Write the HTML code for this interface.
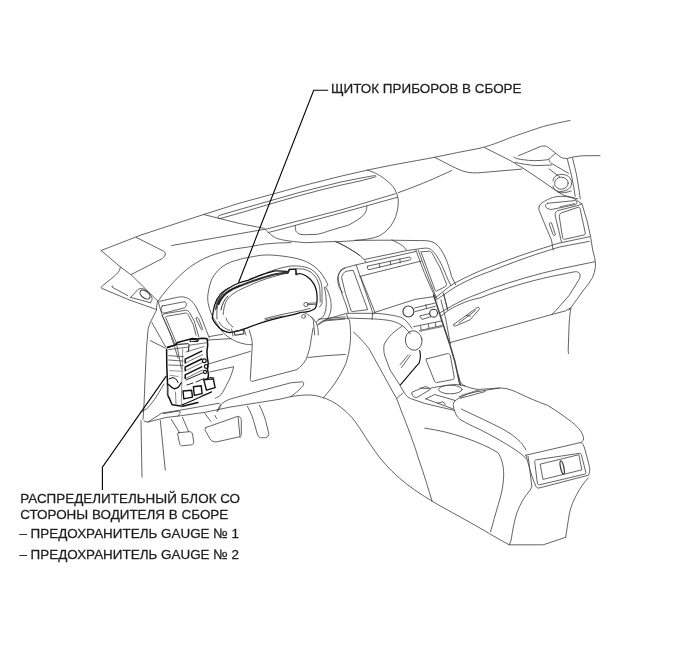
<!DOCTYPE html>
<html><head><meta charset="utf-8">
<style>
html,body{margin:0;padding:0;background:#fff;}
svg{display:block;will-change:transform;}
text{font-family:"Liberation Sans",sans-serif;font-size:13.45px;fill:#1a1a1a;stroke:#2a2a2a;stroke-width:0.28px;}
</style></head><body>
<svg width="691" height="660" viewBox="0 0 691 660">
<g fill="none" stroke="#3c3c3c" stroke-width="0.8" stroke-linejoin="round" stroke-linecap="round">
<!-- A: windshield base & dash top -->
<path d="M101.1,250.5 L141,235 L203.6,214.5 L240,203 L280,192.1 L300,186.5 L316,182.4 L340,176.4 L360,171.8 C390,165 410,162 434.5,157.3 C450,154 465,151 480,148.2 C495,144.5 506,139 516.4,135.5 C527,132 535,129 543.6,126.4 C553,124 562,122 570,120.5"/>
<path d="M203.6,214.5 L240,223.6 L263.6,228.2 C266,229.5 268,233 274.5,237.3 C280,240 287,241 305.5,242.7 L331,241.6 L338,241.7 L360,240.3 L390,240.2 L421.2,240.6 C428,240.5 432,241 436,244 C443,250 448,262 451.6,276.6 L455.6,284.7"/>
<path d="M434.5,157.3 C448,164 458,170 465.5,171.8 C470,173 475,173 480,172.7 L521.8,169.1"/>
<path d="M484.5,147.6 L510,160.4 L523,168.2 L536,176.7 L549.1,185.8 L559.5,193 C562,194.5 564,195.5 567.3,196.2 L577.7,198.8"/>
<path d="M220,218.6 L240,213 L270,204 L300,195.5 L320,190.2 L340,185.3 L360,181 L374,177.3 C377,176.5 376.5,175.3 373.6,175.7 L360,178.2 L340,182.2 L320,187.2 L300,192.3 L270,200.8 L240,209.4 L220,215.2 C217,216.2 217.5,218.9 220,218.6Z"/>
<path d="M398.2,192.7 C420,185 440,176 451.8,170.5"/>
<path d="M367.3,170 C376,173 380,175.5 383.6,178.2 C390,183 394,187 395.5,191 C398,195 398.5,200 398.2,205 C397.5,213 395,220 391,225.5 C387,231 383,234 378.2,236.4 C372,238.6 364,239.9 355,240.3"/>
<path d="M171.8,245.5 L240,233.6 L268,228.7 L280,225.6 L340,210.2 L360,204.3 L395.5,193.7"/>
<path d="M268.2,232.5 L280,229.5 L340,213.2 L360,207.7 L397.3,197.3"/>
<path d="M295.2,225.6 C295.3,228 295.5,230 296,231.3 C297,232.8 298.5,233.8 300,234.3 C302,234.7 304,234.8 306,234.7 L317.3,234.3 C321,233.6 324.5,232.5 327.7,231.3 C332,229.8 336,228.8 340,227.5 C344,226.5 346.5,225.8 348.7,225 C353,222.8 357,220.3 360,218 C362.3,216.5 364,214.8 365.2,212.8 C366.3,210.8 366.8,208.5 366.9,206.3"/>
<path d="M336.4,241.8 C345,246 352,250 360,255.5"/>
<!-- right top: defroster & tweeter -->
<path d="M518.5,155.8 L540,146.7 C542,146 544,145.8 545.2,146.1 C547,146.5 548,147 549.1,148 L555.6,153.2 C558,155 560,157 562.1,157.8 C564,158.5 566,158.5 567.3,158.4 L572.5,157.1 L581.6,155.8 L600,155.6"/>
<path d="M513.9,157.1 C516,158.5 519,159.3 523,159.7 C530,160.7 538,161.2 547.8,159.7 C549,159 549.5,158.5 550.4,157.8 L555.6,153.2"/>
<path d="M549.1,159.7 C549.5,161 550,162 550.4,162.4 C551.5,163.5 552.5,164.3 554.3,165 L568.6,173.4"/>
<path d="M515.2,162.4 C522,164 529,165 536,165.6 L551.7,165"/>
<path d="M549.1,168.9 L559.5,176.7"/>
<ellipse cx="561.4" cy="183.2" rx="6.8" ry="6" />
<path d="M553,181 C553,176 558,174 563,174.5 C569,175 572,179 571.5,184 C571,188.5 567,191 561,191.5 C557,191.8 553.5,189.5 553,186"/>
<path d="M567.3,159.1 L571.2,174.1 L573.8,187.1 L575.1,196.2"/>
<path d="M572.5,157.8 L576.4,174.1 L579,189.7 L580.3,198.8"/>
<path d="M558.2,192.3 C562,193.5 567,192.5 571.2,191"/>
<!-- B: left corner -->
<path d="M136.2,237.4 L162.9,250.8 C166,252.5 166.5,255 162.3,258.6 L131.4,274.4"/>
<path d="M101.1,250.5 L120.5,267.1 L131.4,275 L157.9,301.2"/>
<path d="M120.5,267.1 C119.5,270 119,271.5 118,272.6 C113,278 107,282 102.3,285.9 C101,287 101,288 101.7,288.3 L129,299.8 L156.4,309.5"/>
<path d="M112.5,285.8 L111.8,287 L127.7,295.6"/>
<path d="M130.6,297.4 L150.8,302.8"/>
<path d="M130.6,297.4 L137.5,290 C139,288.5 141,288.3 143,288.8 C147,290 151,294 152,298 C152.5,300.5 151,302 150.3,302.3"/>
<ellipse cx="145" cy="294.6" rx="5.8" ry="3.4" transform="rotate(38 145 294.6)" stroke-width="1.1"/>
<!-- big curve from corner to binnacle -->
<path d="M157.9,301.2 C163,294 168,288 174.5,281 C181,274 189,267 196.4,262.7 C204,258 212,255 220,252.7 C227,250.5 233,249 240,248.2 C250,247 258,245 265,244 C275,243 283,242.7 291,242.7"/>
<!-- A-pillar / door edge line -->
<path d="M157.9,301.2 L157.1,302.7 L156.4,310.3 L150.3,322.4 C149,326 148.3,328 148,330 L146.5,348.2 L145,380 L144.1,402.5 L143,419.4"/>
<path d="M141,420.5 L141.5,450 L142,477.2"/>
<!-- left vent -->
<path d="M158.5,302.7 C158.7,301.9 159,301.5 159.6,301.3 L178.2,297.1 C181,296.6 183.5,296.8 185.7,297.5 C188,298.3 190,299.5 191.4,300.8 C193.3,302.7 194.8,304.7 196.1,306.9 L201.7,318.2 L206.4,330.5 L209.3,338"/>
<path d="M158.5,302.7 L162.2,315.4 L170,333 L174.5,346.7 L178,358"/>
<path d="M162.2,306 L183.9,301.8 C185.8,301.5 186.9,303.2 186.3,304.9 C185.9,306.3 185.4,307.4 184.6,307.8 L165,312.9 C162.8,313.3 161,311.6 161.1,309.5 C161.2,307.6 161.5,306.3 162.2,306 Z"/>
<path d="M175.4,345 L162.2,315.4 C163,314.3 164.5,313.8 166,313.5 L185.7,310.2 C187.3,310.3 188.6,311.2 189.5,312.6 L194.2,321 L198.9,337"/>
<path d="M181.5,369 L176.3,342.7 L165.5,317.3 C166.5,316.3 167.5,316 168.8,315.9 L185.7,313 C187,313.2 188,314.2 188.6,315.4 L193.3,324.8 L196.1,335.2"/>
<path d="M196.3,318 C197,317.3 198,317.6 198.4,318.4 L202.6,328.6 C202.9,329.6 201.8,330.2 201.2,329.4 L196.2,319.2 C196,318.7 196.1,318.3 196.3,318 Z"/>
<path d="M150.3,340.6 L165.5,348.2"/>
<path d="M151.8,322.4 L165.5,346.7"/>
<path d="M209.5,336.5 L222.6,334.3 M209.5,339.9 L231.3,338.6"/>
<!-- C: fuse box -->
<g stroke="#111">
<path d="M167.3,347.3 L174.6,345.1 L178.2,342.2 L184,340.8 L191.9,338.6 L197.7,339 L202.1,338.3 L206.4,338.6 L207.9,340.1" stroke-width="1.5"/>
<path d="M190.5,339.3 L198.5,340.1 L197,341.5 L190,341.2Z" stroke-width="1.1"/>
<path d="M167.3,348 L177.5,344.4 L188.3,343.7 C189.3,344.5 189.3,345.5 189,345.9 L188.3,351.6" stroke-width="1"/>
<path d="M166.6,349.5 L166.8,366 L167.2,375.2 L167.6,386.5 L167.6,394.8 L169.8,399.4 L172.1,404.7 L182.7,406.2 L197.9,402.4" stroke-width="1.5"/>
<path d="M207.3,339.2 L207.7,345.3 L206.9,351.4 L207.3,357.5 L208.2,363 L207.5,369 L208.5,375 L207.9,378" stroke-width="1.5"/>
<path d="M185.2,363.0 L185.2,359.2 L201.7,351.2" stroke-width="1.5"/>
<path d="M186.2,362.6 L202.5,354.6" stroke-width="0.8" stroke="#555"/>
<path d="M185.2,370.8 L185.2,367.0 L201.7,359.0" stroke-width="1.5"/>
<path d="M186.2,370.4 L202.5,362.4" stroke-width="0.8" stroke="#555"/>
<path d="M185.2,378.6 L185.2,374.8 L201.7,366.8" stroke-width="1.5"/>
<path d="M186.2,378.2 L202.5,370.2" stroke-width="0.8" stroke="#555"/>
<path d="M188.6,345.3 L206.9,342.7 M186,352 L204,346.5" stroke-width="0.8" stroke="#555"/>
<circle cx="204.3" cy="360.8" r="1.9" stroke-width="1.2"/>
<circle cx="206.2" cy="366.5" r="1.8" stroke-width="1.2"/>
<circle cx="205" cy="372" r="1.6" stroke-width="1.1"/>
<path d="M182.7,349 L181.2,407" stroke="#888" stroke-width="0.9"/>
<path d="M168.7,349.6 L188.6,347 M168.7,355.7 L183.4,356.6 M168.7,360 L183,361 M168.7,365 L183,365.5" stroke-width="0.8" stroke="#444"/>
<path d="M168.5,384.5 C170,386 172,388 174.4,388.8 C176,388.5 177.5,387.8 178.2,387.3 C179.5,385.5 180.5,384 181.2,382.7" stroke-width="1.3"/>
<path d="M169,379 L173,377.5 L176.5,379.5 L178,382.5" stroke-width="1"/>
<path d="M169.8,370.6 L182.5,371.3 M169.8,375.2 L178,376.5" stroke="#777" stroke-width="0.8"/>
<path d="M203.8,379.8 L213.3,378.9 L215.1,387.6 L206.4,390.2Z" stroke-width="1.4"/>
<path d="M203.8,379.8 L209.5,377.5 L214,378" stroke-width="1"/>
<path d="M193.4,386.7 L201.2,385.8 L202.1,393.6 L194.3,395.4Z" stroke-width="1.4"/>
<path d="M183,391 L191.6,390.2 L192.5,397.1 L183.8,398.9Z" stroke-width="1.4"/>
<path d="M182.1,404.9 C192,401 202,396 211.6,391.9" stroke-width="1.2"/>
<path d="M186,380 L203.5,372.5 M187,385 L193,383 M196,382 L204,378.5" stroke-width="0.9"/>
<path d="M167.6,386 L167.9,396 M175.5,392 L176,404" stroke-width="0.8" stroke="#666"/>
</g>
<path d="M164,384 C160.5,390 157.5,395 154.5,399.5 C151.5,403.5 149,406.5 146.5,409 L140.5,412"/>
<!-- D: cluster & binnacle -->
<path d="M252.1,344.7 C249,344.6 248,344.5 246,344.3 C242.5,343.5 239.5,342.8 236.5,341.7 C233.5,340.3 231,339 228.6,337.3 C226.5,335.8 224.5,334 222.6,332.1 C220.5,329.5 219,327 217.4,324.3 C215.8,322 214.3,319.8 213,317.4 C211.5,314.5 210.3,311.5 209.5,308.7 C208.5,305 207.8,302 207.8,300 C207.6,297.5 207.7,295.5 208,293.9 C209,287 210.5,282 212.3,278.2 C215.5,272.5 219,269 223.2,266.1 C228,262.8 233,261 237.7,260 C242,258.5 246,257.8 250.6,257.1 C256,256 260,255.2 265,255 C271,254.8 277,255.3 283.2,256.2 C290,257 296,258.2 301.4,259.8 C306,261.2 310,263.5 313.5,265.9 C317,268.5 319.5,271 322,274.4 C324.5,278 326.5,281.5 328,285.3 L325.6,287.1 C327.5,290 328.5,292.5 329.2,295 C330.3,298 331,301 331.1,303.5 C331.3,307 331,309.5 330.5,312 C329.8,314.5 329,316.5 328,318 C327,319.5 325.8,320.3 324.4,321.1 L318.3,324.7"/>
<path d="M250,279 C255,277 260,275.2 264.5,273.6 C269,271.5 274,270 278.9,268.5 C282.5,267.5 286,266.8 289.1,266.3 C291,266 293,265.9 295.3,265.9 C299.5,266 303.5,266.6 307.4,267.7 C311,269 313.5,270.8 315.9,273.2 C318,275.8 319.6,278.5 320.8,281.7 C321.8,285 322,288 322,291.4 L322,303.5 L319.5,307.1"/>
<circle cx="303.6" cy="316.4" r="1.9"/>
<!-- lens outer -->
<path d="M212.3,318.1 C213,313 213.5,309 214.7,304.8 C216,300.5 218,297 220.7,293.9 C223.5,291.5 226,289.5 229.2,287.9 C232,286 235,284.5 238.9,283 C241.5,282 244.5,281.3 247.4,280.6 C251.5,279 255.5,277.2 259.5,275.7 C264.5,273.8 269.5,272.2 275,270.9 C279,270.5 282,270.9 286.8,271.5 L289.2,271 L289.2,269.3 L295.9,269.3 L295.9,274.5 L299.5,273.5 C302,274 304.5,274.8 306.2,275.9 C308.2,277.2 309.8,278.6 311.1,280.2 C312.6,282 313.8,283.8 314.7,285.6 C315.6,287.5 316.1,289.3 316.5,291.1 C316.9,293.5 317.1,296 317.1,298.4 C317.1,301 316.8,303.3 316.4,305.5 C315.9,307 315.3,308.2 314.5,309.1 C312.8,310.2 311,310.9 309.1,311.4 C306,312 303,312.4 300,312.7 C295.5,314.5 289.5,315.7 283.2,316.8 C277,318.2 271,319.8 265,321.7 C259,323.5 253,325.6 247.4,327.8 C241.5,330 235.5,331.8 229.2,332.7 C224,332 219.5,329 215.9,324.2 C214,322 213,320 212.3,318.1Z" stroke="#0e0e0e" stroke-width="1.25"/>
<path d="M223.2,314.5 C223.5,310 224.3,306 225.6,302.4 C227.5,298.8 230,296 232.9,293.9 C236.5,291.5 240,289.5 243.8,287.9 C249,285.6 254,283.3 259.5,281.2 C264.5,279.4 269,277.8 273.9,276.5 C279,275 284,273.8 288.4,272.9"/>
<path d="M217,319 C216.5,313 217,307 218.5,301 C221,294 226,289.5 232,286.5 M215.5,310 C216,303 218,297 222,292"/>
<path d="M219,322 C221,326 225,329 230,330.5 M226,318 C227,322 230,325 233,327"/>
<path d="M265,318.5 L283.2,314.2 L301.4,310.6 L310,308.5 M265,320 L283,316"/>
<path d="M234.1,331.5 L243.8,330 L243.8,333.9 L235,335.3Z" stroke-width="1.1"/>
<path d="M231.6,329 L233,336 M244,329 L246,335"/>
<circle cx="305.9" cy="304.5" r="2.1"/>
<path d="M308,304.7 L316.6,304.2 M307.8,303.3 L316.6,302.9"/>
<path d="M300,312.5 C302,311.5 306,313 307.4,314.4 C310,316 312,317.5 313.5,319 C315.5,321.5 317,324 317.1,325.3 C318,328 318.3,331 318.3,335"/>
<path d="M311,316.8 C313,318.5 313.5,320 313.5,322 L314.7,335"/>
<path d="M318.3,319.2 L345,316.8 M324,321 L345,319"/>
<path d="M345,268.3 C342.5,269.5 341,270.5 340.2,272 C338.5,274.5 337.7,276.5 337.7,279.2 C337.7,282 338.2,284.5 338.9,286.5 C340,289 341.2,291 342.6,292.6"/>
<path d="M241,285.5 C250,282 262,277.6 275,274.3 L288,272.3" stroke="#333" stroke-width="2" stroke-dasharray="0.9 0.7"/>
<path d="M218.5,304 C220.5,299 223.5,295.5 227,292.5 C231,289.6 235.5,287.5 240,285.8" stroke="#222" stroke-width="2.2" stroke-dasharray="1.6 0.9"/>
<path d="M216,309 C217,302 219.5,297.5 223,293.5 M221,310 C222,304 224.5,299.5 228,296" stroke="#222" stroke-width="0.9"/>
<path d="M287.6,273.6 L289.1,269.2 L295.6,269.2 L297,275" stroke="#222" stroke-width="1"/>
<path d="M324.5,287.3 C325.5,292 326.2,297 326.4,302.7 C326.3,307 325.6,311 324.5,314.5 C323.2,316.5 321.8,318 320,319.1 L316.4,321.8"/>
<path d="M295.3,268.7 L303.2,269 C306,269.8 308.8,270.8 311.1,272.3 C313.2,274 315,276 316.5,278.4 C317.9,281 318.9,283.5 319.5,286.2 C320,290 320.2,296 320.2,302"/>
<!-- E: steering column, knee panel, pedals -->
<path d="M249.2,330.1 C251,336 252.3,340 252.3,344.3 L250.3,378.8 C250.5,381.5 252,382 254.3,380.8 L296.9,369.6 C300.5,367 303.5,363.5 306,359.5 C308.5,353 310.3,347 311,340.3 L313,328.1"/>
<path d="M308,357.5 C320,356 333,355 345.5,354.4"/>
<path d="M349.5,320 C350.5,327 350.8,334 350.5,340.3 C349.8,349 348,357 345.5,364.6 C342.5,371 339,377 335.3,382.8 C331.5,388 327.5,393.5 323.2,398"/>
<path d="M353.6,332.2 C357,335 360.5,338.5 363.7,342.3 C366,345 368.5,347.8 370,350.4 L375,359.5 L389,385 L396.6,398.6 C398.5,403 400,407.5 401.7,412.1 C404.5,419 407.5,426.5 410.4,434.7 C413.5,443 416.5,451.5 419,460 C424,474 428,488 432.2,501.6"/>
<path d="M396.6,398.6 L403,392.9"/>
<path d="M208.5,364 L250.3,351.4"/>
<path d="M209.8,372 L233.7,366.7 C232.5,372 230,379 226.8,384.5 C224.8,388.5 223,392 221,394.6 C219,396.5 217,397.5 215.3,398.2"/>
<!-- knee bolster -->
<path d="M217,411.4 C219,405 225,400 233.2,398.2 L290.8,382.8 L301.9,381.8 C304.5,382 304,385.5 301.5,387.5 C298,391 294.5,394 290.8,396.6 L280,399.2 L230,407.1 L205.1,412.3 L181.7,415.6 L166,417.5 L147.8,422.1 L144,421"/>
<path d="M147.8,422.1 L162,413 L183,409.7 L218.1,403.4 C220.3,403.3 220.8,405.2 220.2,406.5 C219.6,408.5 218.8,410 217.5,411.4"/>
<path d="M163.4,413.6 L179,411 C180.5,411 180.5,413 179.5,414 L177.8,416.2"/>
<path d="M160.3,420.5 L165.3,470.2"/>
<!-- big floor/console-side curve -->
<path d="M290.8,396.6 C298,395.5 305,394.8 311,395 C318,395.5 325,398 331.3,401 C338,404.5 345,410 351.6,417.2 C356.5,423 361,430 365.7,437.5 C372,447 378,456 385.1,464 C394,474 404,482.5 415.2,490.3 C427,498.5 440,506 452.9,512.9 C463,518.5 473,524 483,529.8 C492,535 500,540 509.3,544.8 L543.2,544.8 L565.7,537.3"/>
<!-- pedals -->
<path d="M171.4,419.5 L179.5,432.7 M182.5,417.5 L188.6,431.7"/>
<path d="M178.5,432.7 L189.6,431.7 C191,431.5 192,432.5 192.5,434 L193.7,441.8 C194,443.5 193,444.5 191.5,444.8 L182.5,445.8 C181,446 180,445 179.7,443.8 L177.8,435 C177.5,433.5 177.8,432.8 178.5,432.7Z"/>
<path d="M204.8,413.4 L210.9,421.5 M215,415.5 L216.5,418.5"/>
<path d="M205.8,427.6 L237.2,416.5 C239.5,415.8 241,417.5 241.3,420.5 L241.3,434.7 C241,436 240,436.5 238.5,437 L217,441.8 C213.5,442.2 211.5,441 209.9,438.8 L205.3,430.5 C205,429 205,428 205.8,427.6Z"/>
<path d="M247.4,406.3 C250,411 252,415.5 253.5,420.5 L257.5,434.7 C258.3,436.8 260,437.8 261.6,437.7 L265.6,437.7 C268,437.5 269,435 268.6,432.7 L265.6,420.5 C263.5,414 261.5,409 259.5,405.3"/>
<path d="M238.1,417.2 L240.1,437.5"/>

<!-- F: center stack -->
<path d="M335,241.2 C339,243 343,245 347.1,247.3 C350.5,249.2 353.5,251.2 356.8,253.3 C359.5,255.3 362,257.3 364.1,259.4 L365.9,261.8"/>
<path d="M392,240 C396,241.8 399.8,243.8 402.9,246.1 C404.5,247.4 405.7,248.8 406.5,250.3"/>
<path d="M364.7,259.4 L407.3,250.5 L415.8,249.3 C419,248.8 422,248.3 425.5,248.1 C428,248.1 430,248.7 431.5,249.9 C433.5,251.5 435,253.3 436.4,255.4 C438.5,258.8 440.5,262.5 442.4,266.3 L448.5,280.8 L450.9,285.7"/>
<path d="M338,278.8 C338.3,275 339,272.5 339.8,271.5 C341,269.5 342.5,268.5 344.7,267.9 L356.2,264.8 L415.8,251.5"/>
<path d="M338,278.8 C339.2,284 340.6,289.5 342.2,294.3 C343.6,298.5 345,302.3 346.5,306 L348.2,312.5"/>
<path d="M341.7,277 C342.5,274 344,272 346,271.3 L348.3,270.9 L353.2,270.3 L367.7,309.7 L352.5,311.5 C351.5,311.5 351,311 350.9,310 L345.5,293.6 L341.7,278Z"/>
<path d="M356.2,265 L373.2,314 M360.5,276.4 L375,312.5"/>
<path d="M359.8,276.4 L421.5,261"/>
<path d="M367.7,266.1 L409.5,257 C411,256.8 411.5,259.5 409.5,260 L368.9,269.7 C367.5,270 366.8,266.5 367.7,266.1Z M379.2,263.6 L379.8,267.5 M390.2,261.2 L390.8,265 M399.8,259 L400.3,262.8"/>
<path d="M415.8,250 L424.2,272.4 L431.5,289.3 L436.4,299 M418.2,250 L425.5,270 L433.9,291.8 L436.4,297.8"/>
<path d="M421.2,251.8 L429.1,251.2 C430.8,251.3 432,252.6 432.7,254.2 L440,267.5 L446.7,284.5 C446.3,285.5 445.8,286.2 444.8,286.9 L436.4,291.2 C435.8,291.3 435.4,291 435.2,290.5 L421.2,252.5Z"/>
<path d="M374.5,312.5 L415,299.4 L433.9,296.6"/>
<path d="M327.5,318.9 L346.6,313.3 L373.7,313.3 C380,313.5 385,314 389.6,314.9 C394,315.6 397.5,316.2 400.7,317.3 C403.5,318.6 405.5,320 407.1,322.1 C409,324.3 410.8,326.5 411.9,328.4"/>
<path d="M317.2,325.2 C320,322 323,320.5 326,319.7 L329.1,319.7 L348.2,318.1 L373.7,318.9 C380,319.3 385,319.8 389.6,320.5 C393,321.2 396.5,322.3 399.1,323.7 C401.5,325 403.5,326.5 405.5,328.4 C407.5,330.5 409,332 410.3,334"/>
<path d="M372.5,313.5 L372.1,319.5 M346.6,314.1 L348.2,319.5"/>
<circle cx="408.4" cy="311.5" r="5.5" stroke-width="1.2"/>
<circle cx="433.6" cy="313.2" r="3.9" stroke-width="1.1"/>
<path d="M414.5,308 L434.5,303.2 M415.4,311.5 L435.3,306.3 M425.8,304.5 L426.6,308.5"/>
<path d="M420.1,315.8 L429.2,313.7 L431,316.7 L422.3,319.3 Z"/>
<path d="M413.6,326.7 L441.4,321 M419.7,330.6 L442.3,325.4 M420.6,326 L421.2,330.3 M428.4,324.3 L429,328.8 M435.3,322.7 L436,327.2"/>
<path d="M420,331 L442,326.5" stroke="#888" stroke-width="1.5" stroke-dasharray="0.8 0.8"/>
<!-- G: console front -->
<ellipse cx="413.7" cy="340.5" rx="8.3" ry="9.8" transform="rotate(-10 413.7 340.5)"/>
<path d="M408.3,355 L400,364.8 M410.6,355 L401.5,367.5"/>
<path d="M419.8,350.6 C420.6,354 421,358 419,363.3 C418.5,364 418,364.4 417.4,364.8 L400.4,384.9" stroke-width="1.15" stroke="#111"/>
<path d="M402.3,326 C397,329.5 392,333.5 389.6,336.4 C387,339.5 385,342.5 384,345 C383.6,348.5 383.8,352 384.5,355 L390.2,370.2 L400,385.3 L403.8,392.1 C405,394 406.3,395.5 407.6,396.7 C408.5,397.5 409.5,398.1 410.6,398.6 L425,403.5 L454.7,410.5"/>
<!-- hatched seam -->
<path d="M433.6,295 L443.1,324.3 L446.6,335 L450,345 L455,362 L459.4,382.4 L460.5,385" stroke="#444" stroke-width="1.6" stroke-dasharray="1 0.8"/>
<path d="M441,300 L446,320 L450.2,343.6"/>
<!-- tray -->
<path d="M426.9,358.8 L447.1,353.7 C448.8,353.4 449.8,354.3 450.3,355.5 L454.2,377 C454.4,378.5 453.8,379.3 452.5,379.6 L436.5,382.6 C435.5,382.7 434.8,382 434.5,381 L426.2,360.5 C426,359.6 426.3,359 426.9,358.8Z"/>
<!-- cupholder/shift area -->
<path d="M412.1,392.1 L424.3,386.9 C426.5,386.2 429.5,387.5 430.3,389.5 L417.3,397.3 C415,398 412.5,397 412.1,394.5 Z"/>
<path d="M420,388 L428.7,388.7 C432,387.8 435.5,387 438.8,386.6 C444.5,385.6 450.5,384.8 456.2,384.4 C461,384.8 466,386.2 470.7,388 L477.9,389.5 L499.6,388"/>
<ellipse cx="450.4" cy="389.5" rx="11.8" ry="4.3"/>
<path d="M459.1,396.7 L477.9,390.2 M460.5,398.2 L485.1,391.6"/>
<path d="M462,395 L480,390" stroke="#999" stroke-width="1.2"/>
<path d="M425.8,398.9 L434.5,394.5 L454.7,400.3 M425.8,398.9 L453.3,409"/>
<path d="M437.4,403.2 L443.2,401.8 L445.3,404.7"/>
<path d="M458.4,375 C459,378 459.5,380 460.5,382.2 C461.8,384 463.2,385 464.9,385.9"/>
<!-- H: right dash: vent, glove box, door -->
<path d="M539.3,206.3 C540,204.5 541,203.5 542,202.8 C545.5,200.5 549,198.8 552.4,197.6 C555,196.8 558,196.3 561,196.3 C565,196.3 568.5,196.8 571.5,197.6 C575,198.8 578,200.8 580.1,202.8 L581.9,203.7 L587.1,221 L590.6,236.7 L592.7,250 L594.5,257.3 C595.3,260.5 595.6,263.5 595.5,266.4 C595,270.5 594,274 592.7,277.3 C590,282 587,286 583.6,290 L574.5,302.7 L569.1,310"/>
<path d="M539.3,206.3 C538.9,207.5 538.8,208.7 538.9,209.8 L544.5,223.6 L551.5,240.1 L553.2,250"/>
<path d="M547.5,203.3 L574.9,200.6 C577,200.6 577.6,202.8 575.8,204.5 L552.4,209.3 C549.5,209.8 546.5,208.5 545.6,206.8 C545.2,205.2 546,203.8 547.5,203.3Z"/>
<path d="M560,206.9 L575,203.6" stroke="#888" stroke-width="1.3" stroke-dasharray="0.7 0.6"/>
<path d="M561.5,242 L555,215 C555.3,212.5 556.3,211.3 557.6,210.6 L578.4,205.4 L581.9,203.7"/>
<path d="M559.3,215.8 C559.5,213.8 561,212.8 562.8,212.4 L578.4,207.2 C579.3,207.2 579.8,207.8 580.1,208.9 L585.3,233.2 C585.3,234.2 584.8,234.8 584,235 L564.5,239.3 C563.5,239.4 563,238.8 562.7,238 Z"/>
<path d="M549.3,223.6 C549.6,222.6 551,222.3 551.5,222.9 L555.4,234.5 C555.6,235.5 554,236 553.4,235.2 Z"/>
<path d="M436,297.3 L449.5,286.4 L454.5,283.2 C466,277 478,271.5 490,266.8 C510,259 530,252 550.6,245.8 L554.1,244.5 L560,242.9 L589.7,236.7"/>
<path d="M436.8,299.5 L448.2,291.8 L455.5,286.8 C467,280.5 478,275.5 490,271.4 C510,263.5 530,256 551.8,249.3 L560,246.9 L589.3,241.4"/>
<path d="M439.1,313.2 L447.3,308.6 C458,302 469,297 480,293.2 L490,289.1 C513,281 537,274 560,268.9 L594.5,261.8"/>
<path d="M441,316 L448.2,310.5 C459,304 469,300 480,297.9 L490,294.1 C513,286 537,279 560,274.7 L574.5,271.8 C577.5,271.3 579.5,272.5 580,274.5 C580.3,276.5 579.7,278.5 578.2,280.9 L569.1,295.5 L556.4,310 L551.8,314.5"/>
<path d="M450.4,342.5 L551.1,314.7 L565.5,310.9 L570,308.2"/>
<path d="M570.9,308.2 C570,313 569.5,318 569.1,324.5 L568.2,350 C568.3,352 568.5,353 568.5,353.6"/>
<path d="M453.9,324.3 L477.2,307.5 C478.8,307 479.8,308 479.1,309.5 L470,319.8 L455.6,326 C453.8,326.5 453,325.2 453.9,324.3Z"/>
<path d="M459,323 L475.6,310.3 M466,315.5 L470.5,316"/>
<path d="M443.5,293 L447.8,310.4 M443.6,294.2 L447.3,308.7"/>
<!-- I: console rear -->
<path d="M454.7,401 C456,400 457.5,399 459.1,398.2 C462,396.5 465,395 467.8,393.8 C472.5,392.5 477.5,391.5 482.2,390.9 C488,390 494,388.8 499.6,388 C502,388 504.5,388.2 506.8,388.7 C511,389.8 515.5,391.5 520,393.8 C529,398 538,402 547.3,405.2 C556,410.5 564,416 571.5,421.8 C575.5,425 578.5,428 580.6,430.9 C582.5,434 583.8,437 583.6,440 L581,442.4"/>
<path d="M454.7,401 C453.5,402.5 453.2,404 453.3,405.4 C453.5,407.5 454,409.5 454.7,411.2 C455.5,413.5 456.5,415.5 457.6,417 C459,418.5 460.5,419.8 462,420.6 C467,423.3 472,426 477.9,428.5 C485,432 492.5,436 499.6,440.1 C507,444.5 514,448.5 520,453.1 C523,455.5 525,457.5 526.5,459"/>
<path d="M461.2,409 C476,416 490,422.5 501.8,428.5 C509,432.5 515,436.5 520,441.6 C522.5,444 524.5,447 526,450"/>
<path d="M526,455.2 L581,442.4 C582.5,443.5 583.5,445 584.2,447 L586.8,456.2 L589.7,467.8 C589.8,470.5 589.5,473 588.6,475.2 L539,488 C537.5,488.3 536.5,487.5 536,486.5 C533,480 530.5,472 528.9,466 L526,455.2Z"/>
<path d="M534.7,462 C534.5,460.8 535.2,460 536.3,459.8 L579.5,453.3 C580.5,453.2 581.2,453.8 581.4,454.8 L585.8,472.3 C586,473.3 585.5,474 584.5,474.2 L539.5,484.8 C538.5,485 537.8,484.5 537.5,483.5 Z"/>
<path d="M540.5,464.1 L578.9,454.7 L581.8,469.9 L543.4,479.3Z"/>
<ellipse cx="562.2" cy="467.5" rx="1.6" ry="6.8" transform="rotate(-12 562.2 467.5)" stroke-width="1.3"/>
<path d="M424.7,428.2 C438,430 451,433 464.2,437.6 C476,441.5 488,446.5 498,452.7 C502,459 503.7,466 503.7,475.2 C503.5,486 501,496 498,505.3 C495.5,514 493,523 490.5,531.7"/>
<path d="M528.1,456.4 L531.9,486.5 L530,490.3 C524,497 520,504.5 516.8,512.9 C514,522 512.3,532 511.2,540 L509.3,544.8"/>
<path d="M588.2,477.9 C583.5,483 580,488.5 577,494 C573.5,500 571,506.5 569.5,512.9 C568,521 567,529 565.7,537.3"/>
</g>
<!-- leaders -->
<g fill="none" stroke="#000" stroke-width="1.1" stroke-linejoin="miter">
<path d="M328.2,90.2 H313.7 L238.5,282.8"/>
<path d="M166.4,375.9 L102.4,467.2 V490"/>
</g>
<text x="331" y="93.1">ЩИТОК ПРИБОРОВ В СБОРЕ</text>
<text x="20.2" y="503.3">РАСПРЕДЕЛИТЕЛЬНЫЙ БЛОК СО</text>
<text x="20.2" y="518.5">СТОРОНЫ ВОДИТЕЛЯ В СБОРЕ</text>
<text x="19.4" y="538.2">– ПРЕДОХРАНИТЕЛЬ GAUGE № 1</text>
<text x="19.4" y="558.6">– ПРЕДОХРАНИТЕЛЬ GAUGE № 2</text>
</svg>
</body></html>
